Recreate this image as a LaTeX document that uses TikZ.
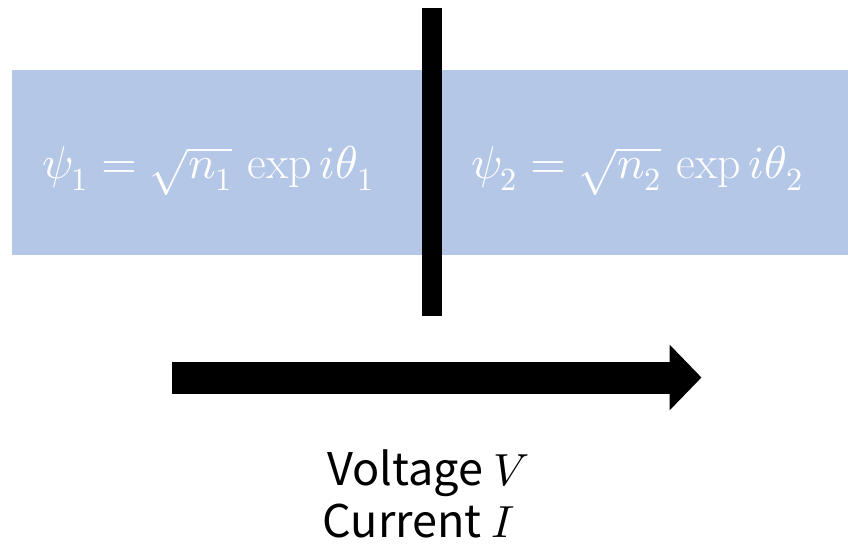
\documentclass[tikz,border=0pt]{standalone}
\usepackage{amsmath}
\usepackage{unicode-math}
\setmathfont{Latin Modern Math}
\usetikzlibrary{arrows.meta}
\newfontfamily\labelfont{Noto Sans CJK JP}
\definecolor{bandblue}{RGB}{180,199,231}

\begin{document}
\begin{tikzpicture}[x=1pt, y=-1pt,
    region/.style={fill=bandblue, inner sep=0pt, anchor=north west},
    barrier/.style={fill=black, inner sep=0pt, anchor=north},
    wavefn/.style={text=white, anchor=base, font=\fontsize{46}{52}\selectfont},
    caption/.style={anchor=base, inner sep=0pt, font=\labelfont\fontsize{45}{54}\selectfont}]
    \useasboundingbox (0,0) rectangle (848,545);

    % superconductors and junction
    \node[region, minimum width=836pt, minimum height=185pt] (band) at (12,69.5) {};
    \node[barrier, minimum width=20.5pt, minimum height=308pt] (junction) at (432,7.6) {};

    % wave functions
    \node[wavefn] (psione) at (208,179) {$\psi_1 = \sqrt{n_1}\,\exp i\theta_1$};
    \node[wavefn] (psitwo) at (637,179) {$\psi_2 = \sqrt{n_2}\,\exp i\theta_2$};

    % current arrow
    \coordinate (from) at (172,377.5);
    \coordinate (to) at (701.5,377.5);
    \draw[line width=32pt, -{Triangle[length=32pt, width=64pt]}] (from) -- (to);

    % labels
    \node[caption] (volt) at (428.5,485) {Voltage $V$};
    \node[caption] (curr) at (419,537) {Current $I$};
\end{tikzpicture}
\end{document}
